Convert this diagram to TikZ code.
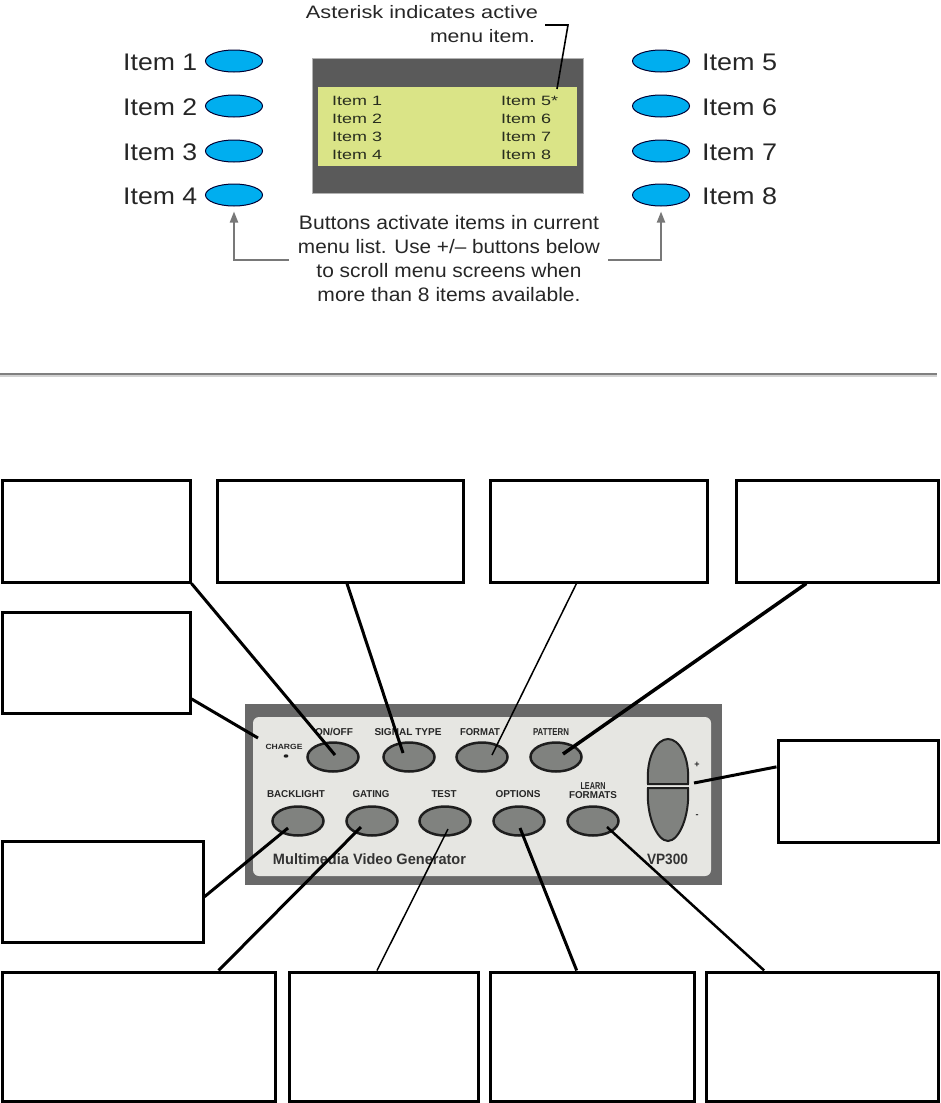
\documentclass[tikz,border=0pt]{standalone}
\usepackage{fontspec}
\setmainfont{Liberation Sans}
\usetikzlibrary{shapes.geometric,arrows.meta,calc}
\newcommand{\fw}[2]{\resizebox{#1pt}{\height}{#2}}
\newcommand{\lcdt}[1]{\scalebox{1.33}[1]{#1}}
\definecolor{cyanbtn}{RGB}{0,174,239}
\definecolor{lcdframe}{RGB}{90,90,90}
\definecolor{lcdgreen}{RGB}{218,228,135}
\definecolor{lcdtext}{RGB}{40,45,30}
\definecolor{framegray}{RGB}{105,105,105}
\definecolor{panelbg}{RGB}{230,230,226}
\definecolor{pbtnfill}{RGB}{128,130,127}
\definecolor{arrowgray}{RGB}{120,120,120}
\definecolor{sepdark}{RGB}{128,128,128}
\definecolor{seplight}{RGB}{210,210,210}
\definecolor{inkdark}{RGB}{30,30,30}
\tikzset{
  itembtn/.style={ellipse, draw=black!80!blue, line width=1pt, fill=cyanbtn,
    minimum width=57pt, minimum height=22pt, inner sep=0pt},
  itemlbl/.style={anchor=base west, inner sep=0pt, font=\fontsize{24}{28}\selectfont, text=black!85},
  lcdtxt/.style={anchor=base west, inner sep=0pt, font=\fontsize{13.5}{16}\selectfont, text=lcdtext},
  txtA/.style={anchor=base, inner sep=0pt, font=\fontsize{18}{22}\selectfont, text=black!85},
  txtB/.style={anchor=base, inner sep=0pt, font=\fontsize{19.5}{24}\selectfont, text=black!85},
  garrow/.style={draw=arrowgray, line width=2pt, shorten >=5pt,
    -{Triangle[width=8pt,length=11pt]}},
  pbtn/.style={ellipse, draw=inkdark, line width=2.5pt, fill=pbtnfill,
    minimum width=51pt, minimum height=29pt, inner sep=0pt},
  plbl/.style={inner sep=0pt, font=\bfseries\fontsize{10}{11}\selectfont, text=black!85},
  callout/.style={draw=black, line width=3pt, fill=white, inner sep=0pt},
  conn/.style={draw=black, line width=3pt},
  thinconn/.style={draw=black, line width=1.5pt}
}
\begin{document}
\begin{tikzpicture}[x=1pt,y=-1pt]
\useasboundingbox (0,0) rectangle (940,1103);

% ---------- top: item buttons ----------
\node[itembtn] (e1) at (234,61) {};
\node[itembtn] (e2) at (234,106) {};
\node[itembtn] (e3) at (234,151) {};
\node[itembtn] (e4) at (234,195) {};
\node[itembtn] (e5) at (661,61) {};
\node[itembtn] (e6) at (661,106) {};
\node[itembtn] (e7) at (661,151) {};
\node[itembtn] (e8) at (661,195) {};
\node[itemlbl] (t1) at (123,70) {\fw{74}{Item 1}};
\node[itemlbl] (t2) at (123,115) {\fw{74}{Item 2}};
\node[itemlbl] (t3) at (123,160) {\fw{74}{Item 3}};
\node[itemlbl] (t4) at (123,204) {\fw{74}{Item 4}};
\node[itemlbl] (t5) at (702,70) {\fw{75}{Item 5}};
\node[itemlbl] (t6) at (702,115) {\fw{75}{Item 6}};
\node[itemlbl] (t7) at (702,160) {\fw{75}{Item 7}};
\node[itemlbl] (t8) at (702,204) {\fw{75}{Item 8}};

% ---------- LCD ----------
\fill[lcdframe] (312,58) rectangle (583,193);
\draw[gray!60, line width=0.8pt] (312,58) rectangle (583,193);
\fill[lcdgreen] (318,87) rectangle (577,166);
\node[lcdtxt] (l1) at (332,105) {\lcdt{Item 1}};
\node[lcdtxt] (l2) at (332,123) {\lcdt{Item 2}};
\node[lcdtxt] (l3) at (332,141.5) {\lcdt{Item 3}};
\node[lcdtxt] (l4) at (332,159) {\lcdt{Item 4}};
\node[lcdtxt] (l5) at (501,105) {\lcdt{Item 5*}};
\node[lcdtxt] (l6) at (501,123) {\lcdt{Item 6}};
\node[lcdtxt] (l7) at (501,141.5) {\lcdt{Item 7}};
\node[lcdtxt] (l8) at (501,159) {\lcdt{Item 8}};

% ---------- annotations ----------
\node[txtA] (ast) at (422,18) {\fw{232}{Asterisk indicates active}};
\node[txtA] (mi) at (482.5,42) {\fw{105}{menu item.}};
\coordinate (ld0) at (545,25);
\coordinate (ld1) at (568,25);
\coordinate (astP) at (557,89);
\draw[line width=1.6pt] (ld0) -- (ld1) -- (astP);

\node[txtB] (b1) at (449,229) {\fw{300}{Buttons activate items in current}};
\node[txtB] (b2) at (449,253) {\fw{302}{menu list. Use +/– buttons below}};
\node[txtB] (b3) at (449,277) {\fw{265}{to scroll menu screens when}};
\node[txtB] (b4) at (449,301) {\fw{263}{more than 8 items available.}};
\coordinate (la) at (289,260);
\coordinate (ra) at (608,260);
\draw[garrow] (la) -| (e4);
\draw[garrow] (ra) -| (e8);

% ---------- separator ----------
\draw[sepdark, line width=1.4pt] (0,374) -- (937,374);
\draw[seplight, line width=2pt] (0,376) -- (937,376);

% ---------- device panel ----------
\fill[framegray] (245,704) rectangle (722,885);
\fill[panelbg, rounded corners=6pt] (253,717) rectangle (711,876);

\node[pbtn] (onoff) at (333,757) {};
\node[pbtn] (sig) at (409,757) {};
\node[pbtn] (fmt) at (482,757) {};
\node[pbtn] (pat) at (556,757) {};
\node[pbtn] (bl) at (298,821) {};
\node[pbtn] (gat) at (372,821) {};
\node[pbtn] (tst) at (445,821) {};
\node[pbtn] (opt) at (519,821) {};
\node[pbtn] (lrn) at (593,821) {};

\node[plbl] (lonoff) at (334,732) {\fw{38}{ON/OFF}};
\node[plbl] (lsig) at (408,732) {\fw{67}{SIGNAL TYPE}};
\node[plbl] (lfmt) at (480,732) {\fw{40}{FORMAT}};
\node[plbl] (lpat) at (551,732) {\fw{36}{PATTERN}};
\node[plbl] (lbl) at (296,794) {\fw{58}{BACKLIGHT}};
\node[plbl] (lgat) at (371,794) {\fw{37}{GATING}};
\node[plbl] (ltst) at (444,794) {\fw{25}{TEST}};
\node[plbl] (lopt) at (518,794) {\fw{45}{OPTIONS}};
\node[plbl] (llrn1) at (593,786) {\fw{25}{LEARN}};
\node[plbl] (llrn2) at (593,795) {\fw{48}{FORMATS}};
\node[plbl, font=\bfseries\fontsize{7.5}{8}\selectfont] (lchg) at (284,747) {\fw{37}{CHARGE}};
\fill[inkdark] (286,756) ellipse (2.4 and 1.7);
\node[plbl, font=\bfseries\fontsize{15}{17}\selectfont, text=black!80] (mvg) at (369.5,859) {\fw{193}{Multimedia Video Generator}};
\node[plbl, font=\bfseries\fontsize{15}{17}\selectfont, text=black!80] (vp) at (667.5,859) {\fw{41}{VP300}};
\node[plbl, font=\bfseries\fontsize{9}{10}\selectfont] (plus) at (697,765) {+};
\node[plbl, font=\bfseries\fontsize{9}{10}\selectfont] (minus) at (697,816) {-};

% plus / minus rocker
\draw[fill=pbtnfill, draw=inkdark, line width=2pt]
  (648,784) .. controls (646,756) and (657,739) .. (668,739)
  .. controls (679,739) and (690,756) .. (688,784) -- cycle;
\draw[fill=pbtnfill, draw=inkdark, line width=2pt]
  (648,788) -- (688,788) .. controls (690,816) and (679,841) .. (668,841)
  .. controls (657,841) and (646,816) .. (648,788) -- cycle;

% ---------- callout boxes ----------
\node[callout, minimum width=188pt, minimum height=102pt] (bA) at (96,531) {};
\node[callout, minimum width=246pt, minimum height=102pt] (bB) at (340,531) {};
\node[callout, minimum width=188pt, minimum height=101pt] (bC) at (96,662.5) {};
\node[callout, minimum width=217pt, minimum height=102pt] (bD) at (598.5,531) {};
\node[callout, minimum width=202pt, minimum height=102pt] (bE) at (837,531) {};
\node[callout, minimum width=160pt, minimum height=102pt] (bF) at (858,791) {};
\node[callout, minimum width=201pt, minimum height=101pt] (bG) at (102.5,891.5) {};
\node[callout, minimum width=273pt, minimum height=129pt] (bH) at (138.5,1036.5) {};
\node[callout, minimum width=189pt, minimum height=129pt] (bI) at (383.5,1036.5) {};
\node[callout, minimum width=204pt, minimum height=129pt] (bJ) at (592,1036.5) {};
\node[callout, minimum width=232pt, minimum height=129pt] (bK) at (822,1036.5) {};

% ---------- connector end points on the panel ----------
\coordinate (pOnoff) at (335,755);
\coordinate (pSig) at (403,753);
\coordinate (pChg) at (258,738);
\coordinate (pFmt) at (492,755);
\coordinate (pPat) at (563,754);
\coordinate (pPm) at (694,783);
\coordinate (pBl) at (288,828);
\coordinate (pGat) at (361,827);
\coordinate (pTst) at (448,829);
\coordinate (pOpt) at (520,828);
\coordinate (pLrn) at (607,827);

% ---------- connectors ----------
\draw[conn] (bA.south east) -- (pOnoff);
\draw[conn] ($(bB.south west)!0.528!(bB.south east)$) -- (pSig);
\draw[conn] ($(bC.north east)!0.85!(bC.south east)$) -- (pChg);
\draw[thinconn] ($(bD.south west)!0.40!(bD.south east)$) -- (pFmt);
\draw[conn, line width=3.5pt] ($(bE.south west)!0.35!(bE.south east)$) -- (pPat);
\draw[conn] ($(bF.north west)!0.27!(bF.south west)$) -- (pPm);
\draw[conn] ($(bG.north east)!0.55!(bG.south east)$) -- (pBl);
\draw[conn] ($(bH.north west)!0.79!(bH.north east)$) -- (pGat);
\draw[thinconn] ($(bI.north west)!0.466!(bI.north east)$) -- (pTst);
\draw[conn] ($(bJ.north west)!0.426!(bJ.north east)$) -- (pOpt);
\draw[conn, line width=2.5pt] ($(bK.north west)!0.254!(bK.north east)$) -- (pLrn);
\end{tikzpicture}
\end{document}
